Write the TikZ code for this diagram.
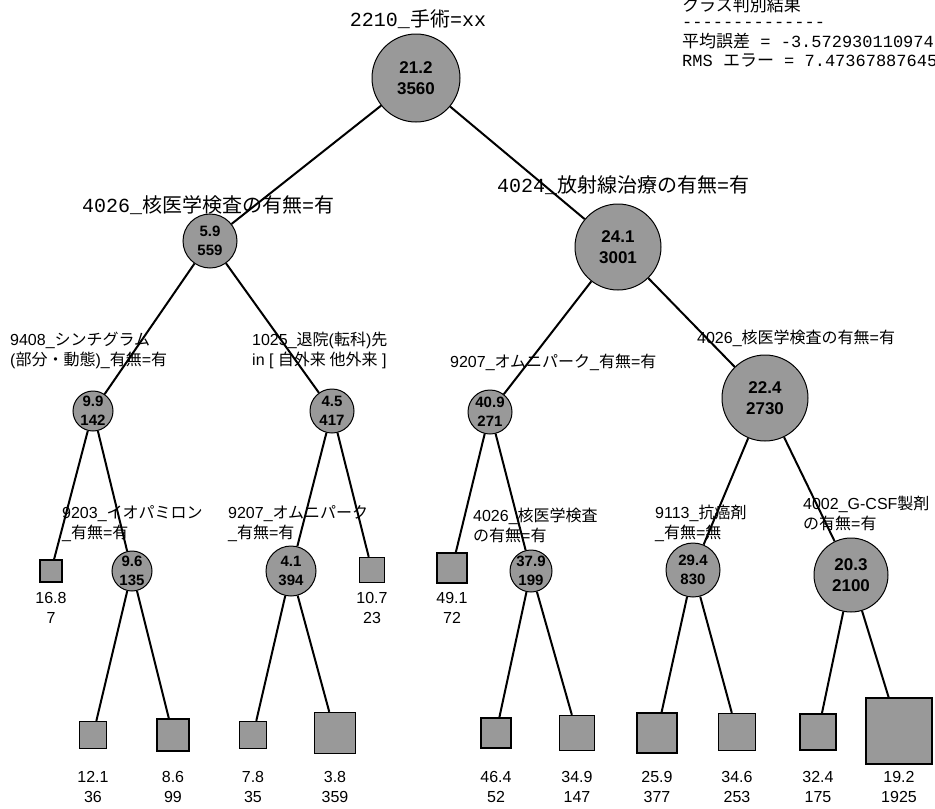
\documentclass[tikz,border=0pt]{standalone}
\usepackage{fontspec}
\setmainfont{Liberation Sans}
\setmonofont{Liberation Mono}
\newfontfamily\jpfont{Noto Sans CJK JP}
\newcommand{\ja}[1]{{\jpfont #1}}
\newcommand{\dashline}{\hbox{-}\hbox{-}\hbox{-}\hbox{-}\hbox{-}\hbox{-}\hbox{-}\hbox{-}\hbox{-}\hbox{-}\hbox{-}\hbox{-}\hbox{-}\hbox{-}}

\tikzset{
    split/.style={circle,draw,line width=1pt,fill=black!40,inner sep=0pt,minimum size=#1,align=center,font=\fontsize{15}{19}\selectfont\bfseries},
    bigsplit/.style={split=#1,font=\fontsize{17}{21}\selectfont\bfseries},
    leaf/.style={rectangle,draw,line width=1.3pt,fill=black!40,inner sep=0pt,minimum size=#1},
    leafval/.style={align=center,inner sep=0pt,font=\fontsize{16}{20}\selectfont},
    cond/.style={anchor=west,align=left,inner sep=0pt,font=\fontsize{16}{20}\selectfont},
    bigcond/.style={anchor=west,inner sep=0pt,font=\fontsize{20}{24}\selectfont\ttfamily},
    stat/.style={anchor=west,inner sep=0pt,font=\fontsize{17}{20}\selectfont\ttfamily},
    branch/.style={line width=2pt}
}

\begin{document}
\begin{tikzpicture}[x=1pt,y=-1pt]
    \useasboundingbox (0,0) rectangle (935,809);

    % result summary
    \node [stat] (stat-h) at (682,5) {\ja{クラス判別結果}};
    \node [stat] (stat-d) at (682,25) {\dashline};
    \node [stat] (stat-1) at (682,41) {\ja{平均誤差} = -3.572930110974};
    \node [stat] (stat-2) at (682,61) {RMS \ja{エラー} = 7.47367887645};

    % splits
    \node [bigsplit=88pt] (root) at (416,78) {21.2\\3560};
    \node [split=54pt] (lft) at (210,241) {5.9\\559};
    \node [bigsplit=86pt] (rgt) at (618,247) {24.1\\3001};
    \node [split=40pt] (lft-a) at (93,411) {9.9\\142};
    \node [split=44pt] (lft-b) at (332,411) {4.5\\417};
    \node [split=44pt] (rgt-a) at (490,412) {40.9\\271};
    \node [bigsplit=86pt] (rgt-b) at (765,398) {22.4\\2730};
    \node [split=40pt] (s1) at (132,571) {9.6\\135};
    \node [split=50pt] (s2) at (291,571) {4.1\\394};
    \node [split=42pt] (s3) at (531,571) {37.9\\199};
    \node [split=54pt] (s4) at (693,570) {29.4\\830};
    \node [bigsplit=74pt] (s5) at (851,575) {20.3\\2100};

    % split labels
    \node [bigcond,anchor=center] (root-t) at (418,19) {2210\_\ja{手術}=xx};
    \node [bigcond] (lft-t) at (82,205) {4026\_\ja{核医学検査の有無}=\ja{有}};
    \node [bigcond] (rgt-t) at (497,185) {4024\_\ja{放射線治療の有無}=\ja{有}};
    \node [cond] (lft-a-t) at (10,350) {9408\_\ja{シンチグラム}\\(\ja{部分・動態})\_\ja{有無}=\ja{有}};
    \node [cond] (lft-b-t) at (252,350) {1025\_\ja{退院}(\ja{転科})\ja{先}\\ in [ \ja{自外来 他外来} ]};
    \node [cond] (rgt-a-t) at (450,362) {9207\_\ja{オムニパーク}\_\ja{有無}=\ja{有}};
    \node [cond] (rgt-b-t) at (697,338) {4026\_\ja{核医学検査の有無}=\ja{有}};
    \node [cond] (s1-t) at (62,524) {9203\_\ja{イオパミロン}\\\_\ja{有無}=\ja{有}};
    \node [cond] (s2-t) at (228,524) {9207\_\ja{オムニパーク}\\\_\ja{有無}=\ja{有}};
    \node [cond] (s3-t) at (473,525) {4026\_\ja{核医学検査}\\\ja{の有無}=\ja{有}};
    \node [cond] (s4-t) at (655,523) {9113\_\ja{抗癌剤}\\\_\ja{有無}=\ja{無}};
    \node [cond] (s5-t) at (803,513) {4002\_G-CSF\ja{製剤}\\\ja{の有無}=\ja{有}};

    % leaves on the middle row
    \node [leaf=22pt] (l1) at (51,571) {};
    \node [leaf=25pt] (l2) at (372,570) {};
    \node [leaf=30pt] (l3) at (452,568) {};
    \node [leafval] (l1-v) at (51,608) {16.8\\7};
    \node [leafval] (l2-v) at (372,608) {10.7\\23};
    \node [leafval] (l3-v) at (452,608) {49.1\\72};

    % leaves on the bottom row
    \foreach \n/\x/\y/\s/\v/\c in {1/93/735/27/12.1/36, 2/173/735/32/8.6/99, 3/253/735/27/7.8/35, 4/335/733/41/3.8/359, 5/496/733/30/46.4/52, 6/577/733/35/34.9/147, 7/657/733/40/25.9/377, 8/737/732/37/34.6/253, 9/818/732/36/32.4/175, 10/899/731/66/19.2/1925} {
        \node [leaf=\s pt] (b\n) at (\x,\y) {};
        \node [leafval] (b\n-v) at (\x,787) {\v\\\c};
    }

    % branches
    \foreach \p/\q in {root/lft, root/rgt, lft/lft-a, lft/lft-b, rgt/rgt-a, rgt/rgt-b, lft-a/l1, lft-a/s1, lft-b/s2, lft-b/l2, rgt-a/l3, rgt-a/s3, rgt-b/s4, rgt-b/s5, s1/b1, s1/b2, s2/b3, s2/b4, s3/b5, s3/b6, s4/b7, s4/b8, s5/b9, s5/b10}
        \draw [branch] (\p) -- (\q);
\end{tikzpicture}
\end{document}
